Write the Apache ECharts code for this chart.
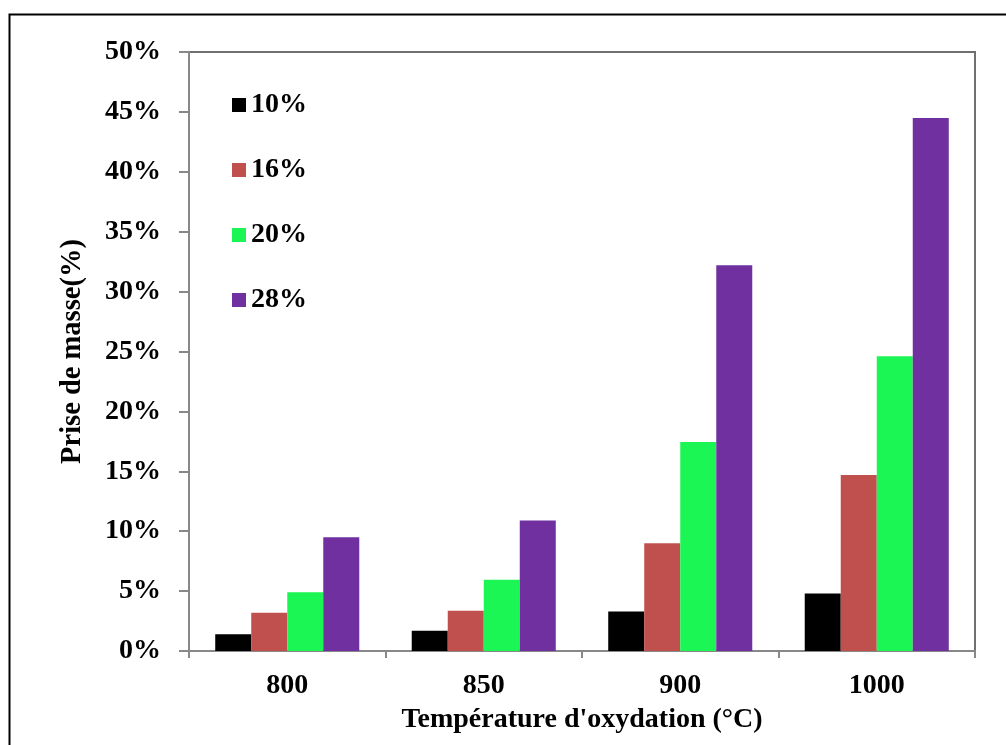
<!DOCTYPE html>
<html>
<head>
<meta charset="utf-8">
<script src="https://cdn.jsdelivr.net/npm/echarts@6/dist/echarts.min.js"></script>
<style>
html,body{margin:0;padding:0;background:#fff;}
#c{width:1006px;height:745px;}
</style>
</head>
<body>
<div id="c"></div>
<script>
var categories = ['800', '850', '900', '1000'];
var seriesNames = ['10%', '16%', '20%', '28%'];
var s10 = [1.4, 1.7, 3.3, 4.8];
var s16 = [3.2, 3.35, 9.0, 14.7];
var s20 = [4.9, 5.95, 17.45, 24.6];
var s28 = [9.5, 10.9, 32.2, 44.5];
var colors = ['#000000', '#C0504D', '#1CF654', '#7030A0'];

var FONT = "'Liberation Serif', 'Times New Roman', serif";
var chart = echarts.init(document.getElementById('c'), null, {renderer: 'canvas'});
var data = [s10, s16, s20, s28];
var series = data.map(function (d, i) {
  return {
    name: seriesNames[i],
    type: 'bar',
    data: d,
    barGap: '0%',
    barCategoryGap: '26.7%',
    itemStyle: {color: colors[i]},
    emphasis: {disabled: true}
  };
});
chart.setOption({
  animation: false,
  backgroundColor: '#fff',
  textStyle: {fontFamily: FONT},
  graphic: [{
    type: 'rect',
    shape: {x: 9.5, y: 14.5, width: 1200, height: 1000},
    style: {fill: 'none', stroke: '#000', lineWidth: 2},
    silent: true
  }],
  grid: {
    left: 189, right: 31, top: 52, bottom: 94,
    show: true, borderColor: '#707070', borderWidth: 2, backgroundColor: 'transparent'
  },
  legend: {
    orient: 'vertical',
    left: 227, top: 85,
    itemWidth: 14, itemHeight: 14, itemGap: 35,
    icon: 'rect',
    data: seriesNames,
    textStyle: {fontFamily: FONT, fontWeight: 'bold', fontSize: 28, color: '#000', lineHeight: 30}
  },
  xAxis: {
    type: 'category',
    data: categories,
    name: "Température d'oxydation (°C)",
    nameLocation: 'middle',
    nameGap: 55,
    nameTextStyle: {fontFamily: FONT, fontWeight: 'bold', fontSize: 28, color: '#000'},
    axisLine: {lineStyle: {color: '#888', width: 2}},
    axisTick: {show: true, length: 7, lineStyle: {color: '#888', width: 2}},
    axisLabel: {fontFamily: FONT, fontWeight: 'bold', fontSize: 28, color: '#000', margin: 21}
  },
  yAxis: {
    type: 'value',
    min: 0, max: 50, interval: 5,
    name: 'Prise de masse(%)',
    nameLocation: 'middle',
    nameGap: 102,
    nameTextStyle: {fontFamily: FONT, fontWeight: 'bold', fontSize: 28.5, color: '#000'},
    splitLine: {show: false},
    axisLine: {show: true, lineStyle: {color: '#888', width: 2}},
    axisTick: {show: true, length: 10, lineStyle: {color: '#888', width: 2}},
    axisLabel: {fontFamily: FONT, fontWeight: 'bold', fontSize: 28, color: '#000', margin: 28, formatter: '{value}%'}
  },
  series: series
});
</script>
</body>
</html>
